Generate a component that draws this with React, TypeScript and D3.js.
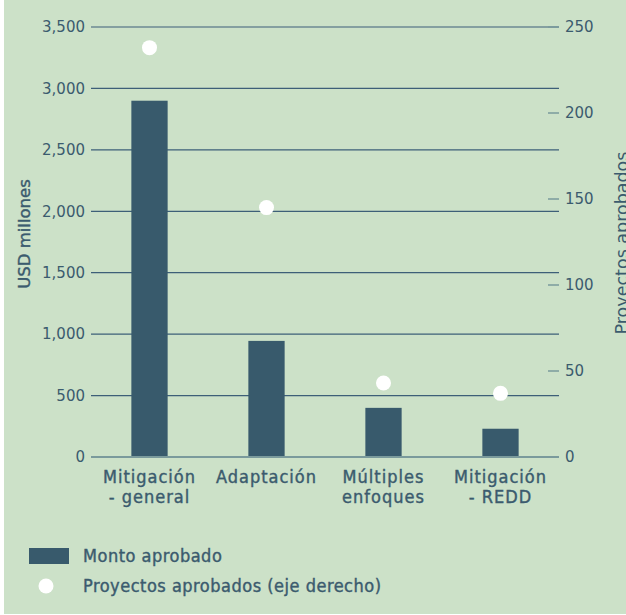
import React from "react";
import * as d3 from "d3";

const categories: string[][] = [
  ["Mitigación", "- general"],
  ["Adaptación"],
  ["Múltiples", "enfoques"],
  ["Mitigación", "- REDD"],
];
const montoAprobado: number[] = [2900, 945, 400, 230];
const proyectosAprobados: number[] = [238, 145, 43, 37];
const leftTicks: number[] = [0, 500, 1000, 1500, 2000, 2500, 3000, 3500];
const rightTicks: number[] = [0, 50, 100, 150, 200, 250];
const legendLabels: string[] = ["Monto aprobado", "Proyectos aprobados (eje derecho)"];

const W = 626;
const H = 615;
const BG = "#cce1c8";
const DARK = "#385a6c";
const TEXT = "#3b5b6e";
const GRID = "#3d5f78";
const LIGHT = "#7a9a9c";
const TICK_FONT = "'DejaVu Sans', sans-serif";
const LABEL_FONT = "'DejaVu Sans Condensed', 'DejaVu Sans', sans-serif";

export default function App() {
  const left = 91;
  const right = 559;
  const top = 27;
  const bottom = 457;
  const idx = categories.map((_, i) => String(i));
  const x = d3.scaleBand<string>().domain(idx).range([left, right]).paddingInner(0.69).paddingOuter(0.345);
  const yL = d3.scaleLinear().domain([0, 3500]).range([bottom, top]);
  const yR = d3.scaleLinear().domain([0, 250]).range([bottom, top]);
  const fmt = d3.format(",");
  const heavy = { stroke: TEXT, strokeWidth: 0.4 };

  return (
    <svg width={W} height={H} style={{ position: "absolute", left: 0, top: 0 }}>
      <rect x={0} y={0} width={W} height={H} fill="#ffffff" />
      <rect x={4} y={0} width={W - 4} height={614} fill={BG} />
      {/* gridlines */}
      {leftTicks.filter((t) => t > 0).map((t) => (
        <line key={"g" + t} x1={left} x2={right} y1={yL(t)} y2={yL(t)} stroke={GRID} strokeWidth={1.2} />
      ))}
      {/* left tick labels */}
      {leftTicks.map((t) => (
        <text key={"l" + t} x={85} y={yL(t)} dy="0.35em" textAnchor="end" fontFamily={TICK_FONT} fontSize={15} fill={TEXT}>
          {fmt(t)}
        </text>
      ))}
      {/* right ticks */}
      {rightTicks.map((t) => (
        <g key={"r" + t}>
          <line x1={548} x2={right} y1={yR(t)} y2={yR(t)} stroke={LIGHT} strokeWidth={1.5} />
          <text x={565} y={yR(t)} dy="0.35em" textAnchor="start" fontFamily={TICK_FONT} fontSize={15} fill={TEXT}>
            {t}
          </text>
        </g>
      ))}
      {/* bars */}
      {montoAprobado.map((v, i) => (
        <rect key={"b" + i} x={x(String(i))} y={yL(v)} width={x.bandwidth()} height={yL(0) - yL(v)} fill={DARK} />
      ))}
      {/* baseline */}
      <line x1={left} x2={right} y1={bottom} y2={bottom} stroke={LIGHT} strokeWidth={2} />
      {/* dots */}
      {proyectosAprobados.map((v, i) => (
        <circle key={"d" + i} cx={(x(String(i)) as number) + x.bandwidth() / 2} cy={yR(v)} r={7.5} fill="#ffffff" />
      ))}
      {/* category labels */}
      {categories.map((lines, i) => (
        <text key={"c" + i} x={(x(String(i)) as number) + x.bandwidth() / 2} y={483} textAnchor="middle" fontFamily={LABEL_FONT} fontSize={18} letterSpacing={1} fill={TEXT} {...heavy}>
          {lines.map((ln, j) => (
            <tspan key={j} x={(x(String(i)) as number) + x.bandwidth() / 2} dy={j === 0 ? 0 : 20}>
              {ln}
            </tspan>
          ))}
        </text>
      ))}
      {/* axis titles */}
      <text transform={`translate(30,234) rotate(-90)`} textAnchor="middle" fontFamily={TICK_FONT} fontSize={16.5} fill={TEXT} {...heavy}>
        USD millones
      </text>
      <text transform={`translate(628,243) rotate(-90)`} textAnchor="middle" fontFamily={TICK_FONT} fontSize={17.5} fill={TEXT}>
        Proyectos aprobados
      </text>
      {/* legend */}
      <rect x={29} y={548} width={40} height={16} fill={DARK} />
      <text x={83} y={556} dy="0.35em" fontFamily={LABEL_FONT} fontSize={18} letterSpacing={0.5} fill={TEXT} {...heavy}>
        {legendLabels[0]}
      </text>
      <circle cx={46} cy={586} r={7.5} fill="#ffffff" />
      <text x={83} y={586} dy="0.35em" fontFamily={LABEL_FONT} fontSize={18} letterSpacing={0.5} fill={TEXT} {...heavy}>
        {legendLabels[1]}
      </text>
    </svg>
  );
}
